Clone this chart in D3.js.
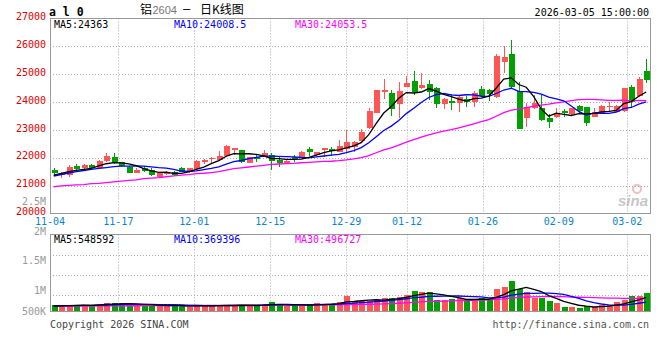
<!DOCTYPE html>
<html><head><meta charset="utf-8">
<script src="https://cdn.jsdelivr.net/npm/d3@7/dist/d3.min.js"></script>
<style>body{margin:0;background:#fff}svg{display:block}</style>
</head><body><svg id="c" width="660" height="360"></svg>
<script>
const symbol = "a l 0";
const titleParts = ["铝", "2604", "–", "日K线图"];
const stamp = "2026-03-05 15:00:00";
const dateLabels = ["11-04","11-17","12-01","12-15","12-29","01-12","01-26","02-09","03-02"];
const dateIndex = [0,9,19,29,39,47,57,67,76];
const priceTicks = [27000,26000,25000,24000,23000,22000,21000,20000];
const volTickLabels = ["2.5M","2M","1.5M","1M","500K"];
const volTickValues = [2500000,2000000,1500000,1000000,500000];

const open = [21560,21380,21380,21705,21622,21740,21644,21895,22039,21837,21658,21464,21644,21561,21299,21418,21479,21622,21500,21586,21859,21956,21920,22064,22279,22279,21823,22017,22017,22100,21920,21823,22039,21992,22315,22110,22279,22315,22218,22315,22397,22602,23058,23618,24372,24336,23920,24551,24756,24515,24648,24494,23930,24049,23977,24110,24013,24469,24433,24193,25449,25725,24397,23438,23776,23797,23417,23474,23679,23561,23859,23833,23474,23597,23833,23654,23679,24530,24218,25115];
const close = [21440,21465,21669,21597,21740,21644,21884,22064,21801,21705,21464,21561,21525,21381,21443,21489,21381,21500,21644,21895,21920,21980,22064,22423,22361,21859,22017,21945,22161,21895,21823,21884,21945,22218,22218,22196,22351,22243,22423,22555,22577,22914,23679,24433,24433,23751,24397,24695,24350,24613,24372,23920,24110,23955,24193,24013,24336,24228,24290,25654,25628,24551,23022,23812,23977,23356,23295,23571,23597,23776,23690,23259,23654,23859,23859,23859,24494,24013,24817,24792];
const high = [21645,21500,21740,21776,21760,21776,21920,22182,22182,21860,21705,21633,21705,21633,21464,21515,21515,21658,21644,21920,21967,22039,22243,22459,22361,22279,22028,22135,22279,22182,22017,21945,22100,22243,22397,22218,22351,22376,22638,22997,22602,23022,23798,24433,24828,24433,24710,24936,25126,25033,24792,24551,24135,24290,24253,24228,24397,24577,24458,25725,26013,26228,24731,23956,24253,24253,23571,23776,23751,23798,23894,23833,23776,23894,24013,23894,24494,24613,24911,25535];
const low = [21345,21285,21320,21536,21536,21622,21622,21859,21776,21680,21443,21443,21500,21356,21285,21392,21356,21479,21443,21561,21766,21801,21895,22039,22100,21830,21823,21859,22017,21561,21658,21776,21837,21980,22075,22075,22017,22075,22196,22218,22218,22577,23033,23597,24110,23500,23439,24551,24253,24469,24074,23798,23751,23715,23654,23833,23833,24193,24049,24157,25054,24458,23022,23115,23751,23331,23080,23417,23453,23535,23571,23151,23453,23571,23654,23632,23632,23798,24193,24674];
const ma5 = [21380,21440,21500,21545,21582,21623,21707,21786,21827,21820,21784,21719,21611,21527,21475,21480,21444,21439,21491,21582,21668,21788,21901,22056,22150,22137,22145,22121,22069,21975,21968,21942,21942,21953,22018,22092,22186,22245,22286,22354,22430,22542,22830,23232,23607,23842,24139,24342,24325,24361,24485,24390,24273,24194,24110,24038,24121,24145,24212,24504,24827,24870,24629,24533,24198,23744,23492,23602,23559,23519,23586,23579,23595,23648,23664,23698,23945,24017,24208,24363];
const ma10 = [21346,21400,21454,21500,21543,21586,21622,21650,21680,21701,21703,21713,21699,21677,21647,21632,21581,21525,21509,21528,21574,21616,21670,21774,21866,21903,21966,22011,22063,22063,22053,22043,22031,22011,21997,22030,22064,22093,22120,22186,22261,22364,22537,22759,22980,23136,23341,23586,23778,23984,24164,24264,24307,24260,24236,24262,24256,24209,24203,24307,24433,24496,24387,24373,24351,24285,24181,24116,24046,23859,23665,23536,23599,23603,23592,23642,23762,23806,23928,24008.5];
const ma30 = [20960,20990,21010,21025,21040,21070,21085,21110,21135,21160,21190,21210,21250,21270,21290,21320,21350,21375,21395,21430,21445,21470,21500,21560,21610,21640,21670,21700,21730,21764,21777,21791,21800,21821,21836,21855,21870,21876,21897,21925,21963,22008,22079,22181,22281,22356,22457,22563,22654,22744,22826,22891,22959,23010,23071,23143,23220,23296,23367,23492,23619,23708,23744,23797,23856,23894,23926,23970,24009,24050,24087,24099,24098,24079,24059,24063,24066,24044,24059,24053.5];
const volume = [250000,210000,230000,270000,270000,230000,270000,320000,330000,330000,280000,230000,230000,270000,220000,220000,220000,200000,190000,270000,210000,210000,270000,240000,240000,270000,200000,240000,280000,360000,290000,210000,210000,250000,290000,330000,270000,290000,370000,610000,410000,410000,410000,450000,540000,540000,580000,640000,800000,770000,770000,450000,450000,490000,540000,410000,450000,540000,450000,890000,950000,1190000,880000,770000,540000,510000,410000,340000,160000,160000,150000,220000,190000,240000,240000,360000,450000,600000,600000,730000];
const vma5 = [215000,220000,225000,235000,246000,242000,254000,272000,284000,296000,306000,298000,280000,268000,246000,234000,232000,226000,210000,220000,218000,216000,230000,240000,234000,246000,244000,238000,246000,270000,274000,276000,270000,264000,250000,258000,270000,286000,310000,374000,390000,418000,442000,458000,444000,470000,504000,550000,620000,666000,712000,686000,648000,586000,540000,468000,468000,486000,478000,548000,656000,804000,872000,936000,866000,778000,622000,514000,392000,316000,244000,206000,176000,192000,208000,250000,296000,378000,450000,548592];
const vma10 = [225000,225000,228000,230000,235000,240000,245000,250000,260000,271000,274000,276000,276000,276000,271000,270000,265000,253000,239000,233000,226000,224000,228000,225000,227000,232000,230000,234000,243000,252000,260000,260000,254000,255000,260000,266000,273000,278000,287000,312000,324000,344000,364000,384000,409000,430000,461000,496000,539000,555000,591000,595000,599000,603000,603000,590000,577000,567000,532000,544000,562000,636000,679000,707000,707000,717000,713000,693000,664000,591000,511000,414000,345000,292000,262000,247000,251000,277000,321000,369396];
const vma30 = [210000,210000,212000,212000,214000,215000,216000,218000,220000,222000,224000,225000,226000,228000,229000,230000,232000,233000,234000,236000,237000,238000,240000,241000,243000,245000,246000,248000,250000,252000,253000,253000,253000,252000,253000,256000,256000,255000,256000,266000,270000,276000,282000,288000,299000,309000,321000,336000,356000,373000,392000,400000,406000,414000,424000,429000,437000,447000,453000,470000,492000,525000,547000,565000,573000,579000,584000,585000,578000,563000,555000,548000,541000,534000,524000,518000,514000,512000,506000,496727];

const RED = "#ff5555", GREEN = "#00a000";
const MONO = "'DejaVu Sans Mono', monospace";
const svg = d3.select("#c");
const n = close.length;
const idx = d3.range(n);

const L = 50, R = 650;
const x = d3.scaleBand().domain(idx).range([L, R]);
const xg = d3.scaleLinear().domain([0, n - 1]).range([L, R]);
const cx = i => x(i) + x.bandwidth() / 2;
const yP = d3.scaleLinear().domain([20000, 27000]).range([213.5, 18.5]);
const yV = d3.scaleLinear().domain([0, 3000000]).range([311.5, 234.5]);
const yVLabel = d3.scaleLinear().domain([0, 2500000]).range([350.5, 201]);

const dotted = "1,2";
const gridCol = "#aaa";

// price grid
const gP = svg.append("g");
gP.selectAll("line.h").data(priceTicks.slice(1, -1)).join("line")
  .attr("x1", L).attr("x2", R).attr("y1", d => Math.round(yP(d)) + 0.5).attr("y2", d => Math.round(yP(d)) + 0.5)
  .attr("stroke", gridCol).attr("stroke-dasharray", dotted);
gP.selectAll("line.v").data(dateIndex.slice(1)).join("line")
  .attr("x1", d => Math.round(xg(d)) + 0.5).attr("x2", d => Math.round(xg(d)) + 0.5)
  .attr("y1", yP(27000)).attr("y2", yP(20000))
  .attr("stroke", gridCol).attr("stroke-dasharray", dotted);

// volume grid
const volTop = yV(3000000), volBot = yV(0);
const volGridFrac = [0.27, 0.53, 0.79];
svg.append("g").selectAll("line").data(volGridFrac).join("line")
  .attr("x1", L).attr("x2", R)
  .attr("y1", f => Math.round(volTop + f * (volBot - volTop)) + 0.5)
  .attr("y2", f => Math.round(volTop + f * (volBot - volTop)) + 0.5)
  .attr("stroke", gridCol).attr("stroke-dasharray", dotted);
svg.append("g").selectAll("line").data(dateIndex.slice(1)).join("line")
  .attr("x1", d => Math.round(xg(d)) + 0.5).attr("x2", d => Math.round(xg(d)) + 0.5)
  .attr("y1", volTop).attr("y2", volBot)
  .attr("stroke", gridCol).attr("stroke-dasharray", dotted);

// watermark
const wm = svg.append("g").attr("opacity", 0.55);
wm.append("circle").attr("cx", 637).attr("cy", 189).attr("r", 4).attr("fill", "none").attr("stroke", "#e88").attr("stroke-width", 2);
wm.append("text").attr("x", 648).attr("y", 206).attr("text-anchor", "end")
  .attr("font-family", "'Liberation Sans', Arial, sans-serif").attr("font-size", 15)
  .attr("font-style", "italic").attr("font-weight", "bold").attr("fill", "#999").text("sina");

// candles
const colorOf = i => close[i] >= open[i] ? RED : GREEN;
const cw = 6;
const gc = svg.append("g").attr("shape-rendering", "crispEdges");
gc.selectAll("line").data(idx).join("line")
  .attr("x1", i => Math.round(cx(i)) + 0.5).attr("x2", i => Math.round(cx(i)) + 0.5)
  .attr("y1", i => yP(high[i])).attr("y2", i => yP(low[i]))
  .attr("stroke", colorOf);
gc.selectAll("rect").data(idx).join("rect")
  .attr("x", i => Math.round(cx(i)) - cw / 2 + 0.5)
  .attr("width", cw)
  .attr("y", i => yP(Math.max(open[i], close[i])))
  .attr("height", i => Math.max(1, yP(Math.min(open[i], close[i])) - yP(Math.max(open[i], close[i]))))
  .attr("fill", colorOf);

// volume bars
svg.append("g").attr("shape-rendering", "crispEdges").selectAll("rect").data(idx).join("rect")
  .attr("x", i => Math.round(cx(i)) - cw / 2 + 0.5)
  .attr("width", cw)
  .attr("y", i => yV(volume[i]))
  .attr("height", i => yV(0) - yV(volume[i]))
  .attr("fill", colorOf);

// MA lines
const lineP = d3.line().x((d, i) => cx(i)).y(d => yP(d));
const lineV = d3.line().x((d, i) => cx(i)).y(d => yV(d));
[[ma30, "#ff00ff"], [ma10, "#0000ff"], [ma5, "#000"]].forEach(([s, c]) =>
  svg.append("path").attr("d", lineP(s)).attr("fill", "none").attr("stroke", c).attr("stroke-width", 1.3));
[[vma30, "#ff00ff"], [vma10, "#0000ff"], [vma5, "#000"]].forEach(([s, c]) =>
  svg.append("path").attr("d", lineV(s)).attr("fill", "none").attr("stroke", c).attr("stroke-width", 1.3));

// frames
const frame = svg.append("g").attr("fill", "none").attr("stroke", "#999").attr("shape-rendering", "crispEdges");
frame.append("rect").attr("x", L + 0.5).attr("y", yP(27000)).attr("width", R - L).attr("height", yP(20000) - yP(27000)).attr("stroke-width", 1.5);
frame.append("rect").attr("x", L + 0.5).attr("y", volTop).attr("width", R - L).attr("height", volBot - volTop).attr("stroke-width", 1.5);

// price axis labels
svg.append("g").selectAll("text").data(priceTicks).join("text")
  .attr("x", 46).attr("y", d => yP(d) + 1.6).attr("text-anchor", "end")
  .attr("font-family", MONO).attr("font-size", 10).attr("fill", "#e00000").text(d => d);

// volume axis labels
svg.append("g").selectAll("text").data(volTickValues).join("text")
  .attr("x", 46).attr("y", d => Math.min(yVLabel(d), 311) + 3.6).attr("text-anchor", "end")
  .attr("font-family", MONO).attr("font-size", 10).attr("fill", "#999").text((d, i) => volTickLabels[i]);

// date labels
svg.append("g").selectAll("text").data(dateIndex).join("text")
  .attr("x", d => xg(d)).attr("y", 224.6).attr("text-anchor", "middle")
  .attr("font-family", MONO).attr("font-size", 10).attr("fill", "#0a84d0").text((d, i) => dateLabels[i]);

// MA legends
const fmt = v => String(v);
const legP = [["MA5:" + fmt(ma5[n-1]), "#000", 54], ["MA10:" + fmt(ma10[n-1]), "#0000ff", 174], ["MA30:" + fmt(ma30[n-1]), "#ff00ff", 295]];
svg.append("g").selectAll("text").data(legP).join("text")
  .attr("x", d => d[2]).attr("y", 27.6).attr("font-family", MONO).attr("font-size", 10)
  .attr("fill", d => d[1]).text(d => d[0]);
const legV = [["MA5:" + fmt(vma5[n-1]), "#000", 54], ["MA10:" + fmt(vma10[n-1]), "#0000ff", 174], ["MA30:" + fmt(vma30[n-1]), "#ff00ff", 295]];
svg.append("g").selectAll("text").data(legV).join("text")
  .attr("x", d => d[2]).attr("y", 242.6).attr("font-family", MONO).attr("font-size", 10)
  .attr("fill", d => d[1]).text(d => d[0]);

// header
svg.append("text").attr("x", 49).attr("y", 16).attr("font-family", MONO).attr("font-size", 11.5)
  .attr("font-weight", "bold").attr("fill", "#000").attr("xml:space", "preserve").text(symbol);
const CJK = "'Noto Sans CJK SC', sans-serif";
const th = svg.append("g").attr("font-size", 12).attr("font-family", CJK);
th.append("text").attr("x", 140).attr("y", 14).attr("fill", "#000").text(titleParts[0]);
th.append("text").attr("x", 152.5).attr("y", 14).attr("fill", "#777").attr("font-family", "'Liberation Sans', Arial, sans-serif").attr("font-size", 11).text(titleParts[1]);
th.append("text").attr("x", 183).attr("y", 13).attr("fill", "#000").attr("font-family", MONO).attr("font-size", 12).text(titleParts[2]);
th.append("text").attr("x", 200).attr("y", 14).attr("fill", "#000").text(titleParts[3]);
svg.append("text").attr("x", 649).attr("y", 16).attr("text-anchor", "end").attr("font-family", MONO).attr("font-size", 10).attr("fill", "#000").text(stamp);

// footer
svg.append("text").attr("x", 50).attr("y", 327.6).attr("font-family", MONO).attr("font-size", 10).attr("fill", "#444").text("Copyright 2026 SINA.COM");
svg.append("text").attr("x", 649).attr("y", 327.6).attr("text-anchor", "end").attr("font-family", MONO).attr("font-size", 10).attr("fill", "#555").text("http://finance.sina.com.cn");
</script>
</body></html>
